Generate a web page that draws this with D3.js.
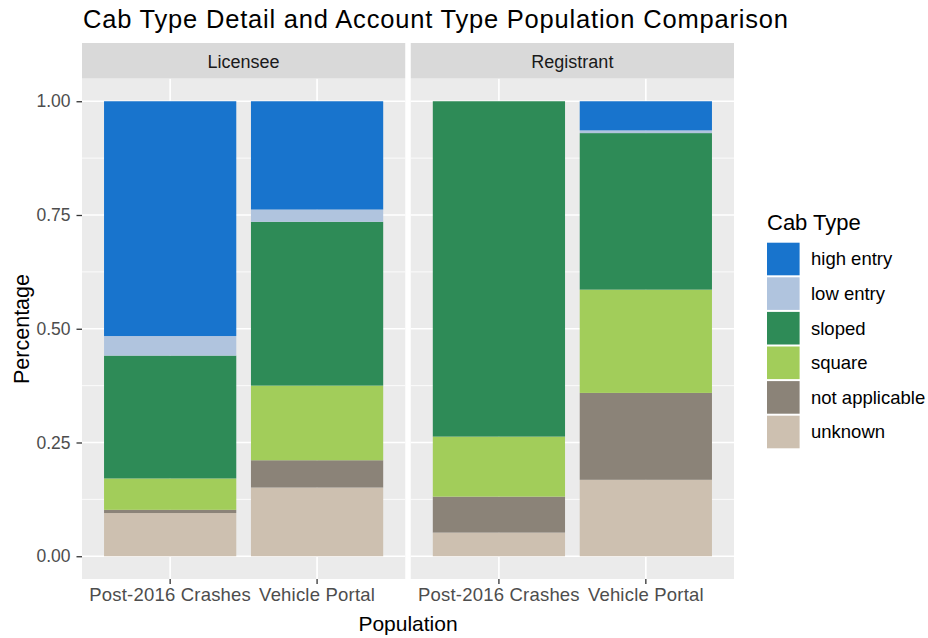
<!DOCTYPE html>
<html>
<head>
<meta charset="utf-8">
<script src="https://cdn.jsdelivr.net/npm/d3@7"></script>
<style>
  body { margin: 0; background: #fff; }
  text { font-family: Arial, "Liberation Sans", sans-serif; }
</style>
</head>
<body>
<svg id="chart"></svg>
<script>
// data
var accountTypes = ['Licensee', 'Registrant'];
var populations = ['Post-2016 Crashes', 'Vehicle Portal'];
var cabTypes = ['high entry', 'low entry', 'sloped', 'square', 'not applicable', 'unknown'];
var cabColors = ['#1874CD', '#B0C4DE', '#2E8B57', '#A2CD5A', '#8B8378', '#CDC0B0'];
var yTicks = [0, 0.25, 0.5, 0.75, 1];

// one value per bar: Licensee/Post-2016, Licensee/Portal, Registrant/Post-2016, Registrant/Portal
var highEntry     = [0.516, 0.238, 0.000, 0.064];
var lowEntry      = [0.043, 0.027, 0.000, 0.006];
var sloped        = [0.270, 0.360, 0.737, 0.344];
var square        = [0.069, 0.164, 0.132, 0.227];
var notApplicable = [0.007, 0.060, 0.079, 0.191];
var unknown       = [0.095, 0.151, 0.052, 0.168];

var series = [highEntry, lowEntry, sloped, square, notApplicable, unknown];

var width = 928, height = 638;
var svg = d3.select('#chart').attr('width', width).attr('height', height);

var rows = [];
accountTypes.forEach(function(acc, a) {
    populations.forEach(function(pop, p) {
        var r = { account: acc, population: pop };
        cabTypes.forEach(function(c, k) { r[c] = series[k][a * 2 + p]; });
        rows.push(r);
    });
});

// unknown at the bottom, high entry on top
var stack = d3.stack().keys(cabTypes.slice().reverse());
var color = d3.scaleOrdinal().domain(cabTypes).range(cabColors);

var panelTop = 78.5, panelBottom = 579;
var strip = { top: 43, height: 35.5 };
var panels = d3.scaleBand().domain(accountTypes).range([82, 734]).paddingInner(0.0168);

var y = d3.scaleLinear().domain([-0.05, 1.05]).range([panelBottom, panelTop]);

accountTypes.forEach(function(acc, a) {
    var x0 = panels(acc), pw = panels.bandwidth();
    var x = d3.scaleBand().domain(populations).range([x0, x0 + pw])
        .paddingInner(0.1).paddingOuter(0.15);
    var g = svg.append('g');

    g.append('rect')
        .attr('x', x0).attr('y', panelTop)
        .attr('width', pw).attr('height', panelBottom - panelTop)
        .attr('fill', '#EBEBEB');

    // minor grid
    g.selectAll('.minor')
        .data([0.125, 0.375, 0.625, 0.875])
        .enter().append('line')
        .attr('x1', x0).attr('x2', x0 + pw)
        .attr('y1', function(d) { return y(d); })
        .attr('y2', function(d) { return y(d); })
        .attr('stroke', '#fff').attr('stroke-width', 0.8);

    // major grid
    g.selectAll('.major')
        .data(yTicks)
        .enter().append('line')
        .attr('x1', x0).attr('x2', x0 + pw)
        .attr('y1', function(d) { return y(d); })
        .attr('y2', function(d) { return y(d); })
        .attr('stroke', '#fff').attr('stroke-width', 1.6);

    g.selectAll('.vgrid')
        .data(populations)
        .enter().append('line')
        .attr('x1', function(d) { return x(d) + x.bandwidth() / 2; })
        .attr('x2', function(d) { return x(d) + x.bandwidth() / 2; })
        .attr('y1', panelTop).attr('y2', panelBottom)
        .attr('stroke', '#fff').attr('stroke-width', 1.6);

    var data = rows.filter(function(r) { return r.account === acc; });
    var layers = stack(data);

    g.selectAll('.layer')
        .data(layers)
        .enter().append('g')
        .attr('fill', function(d) { return color(d.key); })
        .selectAll('rect')
        .data(function(d) { return d; })
        .enter().append('rect')
        .attr('x', function(d) { return x(d.data.population); })
        .attr('width', x.bandwidth())
        .attr('y', function(d) { return y(d[1]); })
        .attr('height', function(d) { return Math.max(0, y(d[0]) - y(d[1])); });

    // strip
    g.append('rect')
        .attr('x', x0).attr('y', strip.top)
        .attr('width', pw).attr('height', strip.height)
        .attr('fill', '#D9D9D9');
    g.append('text')
        .attr('x', x0 + pw / 2).attr('y', 67.5)
        .attr('text-anchor', 'middle')
        .attr('font-size', 18)
        .attr('fill', '#1A1A1A')
        .text(acc);

    // x axis
    var xa = svg.append('g')
        .attr('transform', 'translate(0,' + panelBottom + ')')
        .call(d3.axisBottom(x).tickSize(5).tickPadding(4));
    xa.select('.domain').remove();
    xa.selectAll('line').attr('stroke', '#333').attr('stroke-width', 1.3);
    xa.selectAll('text')
        .attr('font-size', 18.5)
        .attr('letter-spacing', 0.2)
        .attr('fill', '#4D4D4D')
        .attr('font-family', 'Arial, "Liberation Sans", sans-serif');
});

// y axis
var ya = svg.append('g')
    .attr('transform', 'translate(82,0)')
    .call(d3.axisLeft(y).tickValues(yTicks).tickFormat(d3.format('.2f')).tickSize(5.5).tickPadding(6));
ya.select('.domain').remove();
ya.selectAll('line').attr('stroke', '#333').attr('stroke-width', 1.3);
ya.selectAll('text')
    .attr('font-size', 17.5)
    .attr('fill', '#4D4D4D')
    .attr('font-family', 'Arial, "Liberation Sans", sans-serif');

// titles
svg.append('text')
    .attr('x', 83).attr('y', 27.5)
    .attr('font-size', 25.5)
    .attr('letter-spacing', 0.8)
    .attr('fill', '#000')
    .text('Cab Type Detail and Account Type Population Comparison');

svg.append('text')
    .attr('x', 408).attr('y', 631)
    .attr('text-anchor', 'middle')
    .attr('font-size', 21)
    .attr('fill', '#000')
    .text('Population');

svg.append('text')
    .attr('transform', 'translate(29,329) rotate(-90)')
    .attr('text-anchor', 'middle')
    .attr('font-size', 21.5)
    .attr('fill', '#000')
    .text('Percentage');

// legend
var legend = svg.append('g').attr('transform', 'translate(767,0)');
legend.append('text')
    .attr('x', 0).attr('y', 230)
    .attr('font-size', 22)
    .attr('fill', '#000')
    .text('Cab Type');

var keySize = 32.6, keyTop = 242.7;
var items = legend.selectAll('.item')
    .data(cabTypes)
    .enter().append('g')
    .attr('transform', function(d, i) { return 'translate(0,' + (keyTop + i * 34.6) + ')'; });
items.append('rect')
    .attr('width', keySize).attr('height', keySize)
    .attr('fill', function(d) { return color(d); });
items.append('text')
    .attr('x', 44).attr('y', keySize / 2)
    .attr('dy', '0.35em')
    .attr('font-size', 18.5)
    .attr('fill', '#000')
    .text(function(d) { return d; });
</script>
</body>
</html>
